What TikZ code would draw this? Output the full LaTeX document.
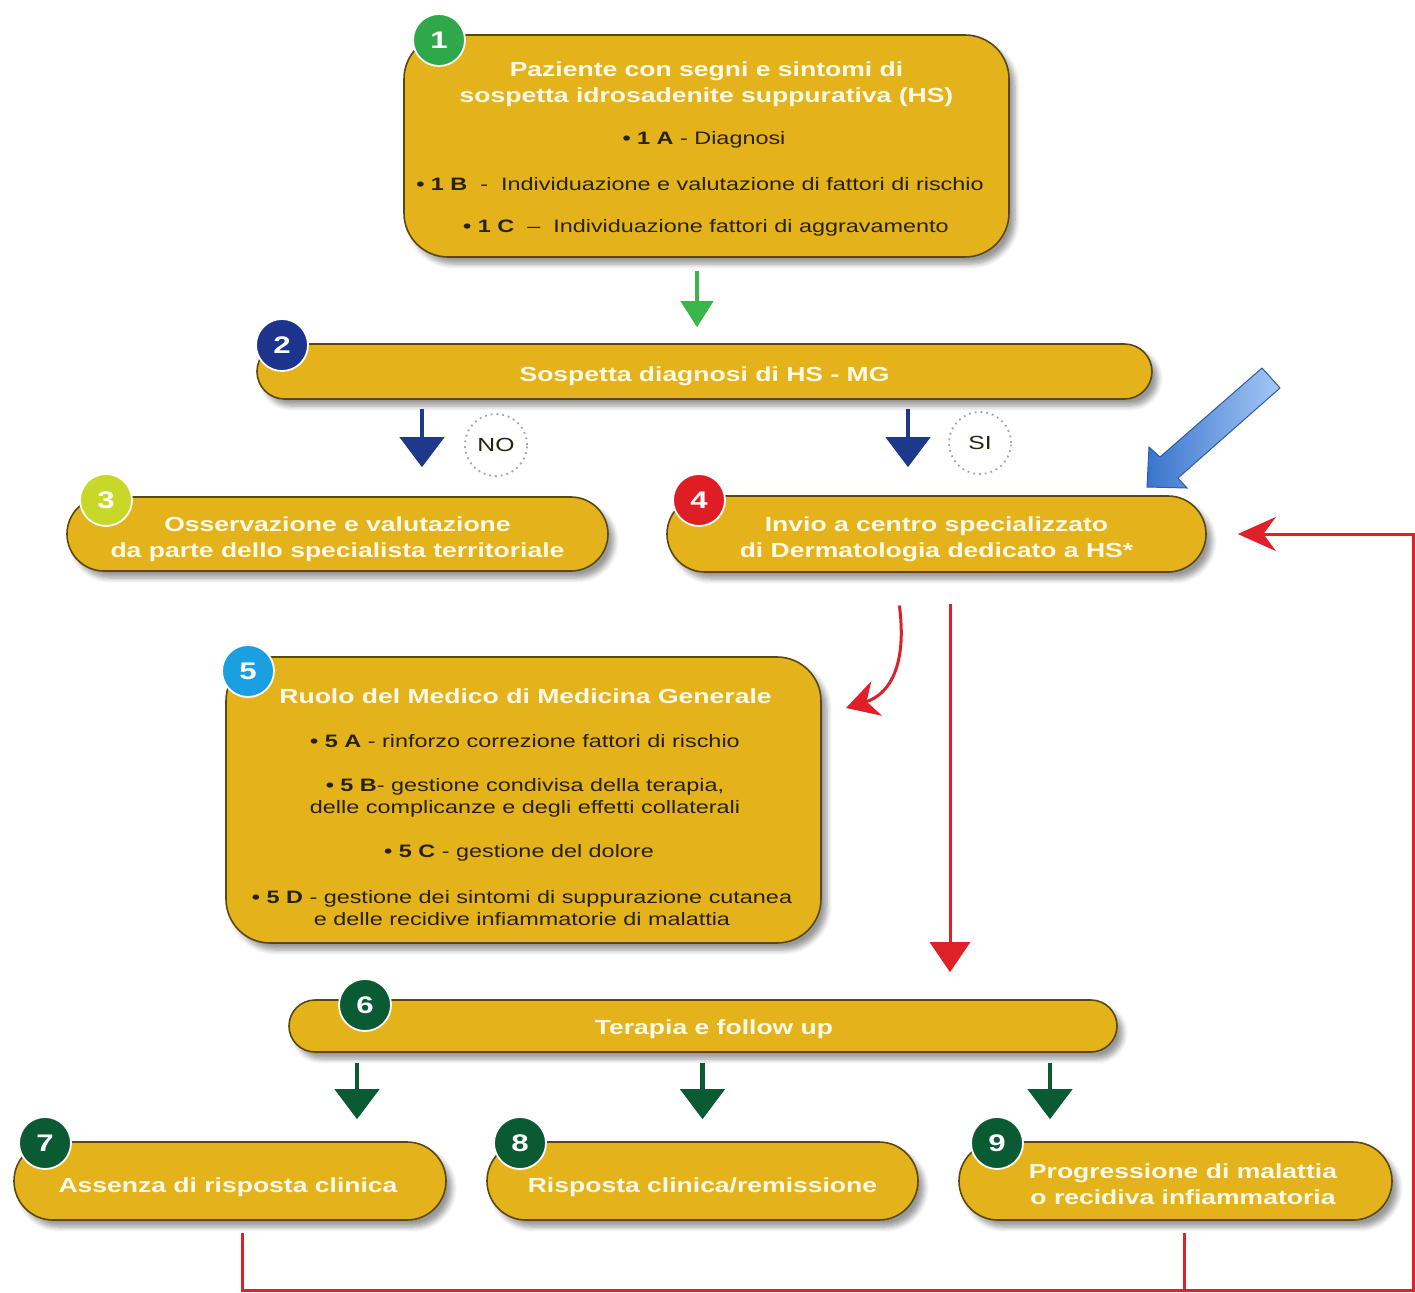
\documentclass[tikz,border=0pt]{standalone}
\usepackage{fontspec}
\setmainfont{Liberation Sans}[FakeStretch=1.3]
\usetikzlibrary{arrows.meta,shadows,shadows.blur}
\definecolor{hsGold}{RGB}{228,178,27}
\definecolor{hsEdge}{RGB}{90,72,18}
\definecolor{hsInk}{RGB}{40,34,16}
\definecolor{hsWhite}{RGB}{255,250,232}
\definecolor{hsGreen}{RGB}{46,168,74}
\definecolor{hsNavy}{RGB}{28,52,140}
\definecolor{hsLime}{RGB}{200,216,40}
\definecolor{hsRed}{RGB}{222,30,36}
\definecolor{hsCyan}{RGB}{26,160,224}
\definecolor{hsForest}{RGB}{10,90,52}
\definecolor{hsArrowBlue}{RGB}{30,56,140}
\definecolor{hsArrowGreen}{RGB}{58,181,74}
\definecolor{hsLoopRed}{RGB}{224,32,40}
\definecolor{hsSkyLight}{RGB}{165,200,246}
\definecolor{hsSkyDark}{RGB}{58,116,204}
\newcommand{\hsTag}[1]{\textbf{\textbullet\ #1}}
\tikzset{
  hsbox/.style={draw=hsEdge, line width=0.8pt, fill=hsGold, inner sep=0pt, blur shadow={shadow xshift=3pt, shadow yshift=-3.5pt, shadow blur radius=2.5pt, shadow blur steps=6, shadow opacity=40}},
  hstitle/.style={text=hsWhite, font=\bfseries\fontsize{10.2}{13}\selectfont, align=center},
  hsitem/.style={text=hsInk, font=\fontsize{9}{11}\selectfont, align=center, inner sep=0pt},
  hsbadge/.style={circle, draw=white, line width=0.9pt, minimum size=26pt, inner sep=0pt, text=white, font=\bfseries\fontsize{12}{12}\selectfont},
  hsanswer/.style={circle, draw=gray!70, dotted, line width=0.9pt, fill=white, minimum size=31pt, inner sep=0pt, text=hsInk, font=\fontsize{9.5}{10}\selectfont},
  bluedown/.style={draw=hsArrowBlue, line width=2.2pt, -{Triangle[width=22pt,length=15pt]}},
  greendown/.style={draw=hsArrowGreen, line width=2pt, -{Triangle[width=16pt,length=13pt]}},
  forestdown/.style={draw=hsForest, line width=2.2pt, -{Triangle[width=22pt,length=15pt]}},
  redline/.style={draw=hsLoopRed, line width=1.5pt},
}
\begin{document}
\begin{tikzpicture}[x=0.5pt,y=-0.5pt]
\useasboundingbox (0,0) rectangle (1415,1292);
\coordinate (xG) at (697,0);
\coordinate (xNo) at (422,0);
\coordinate (xSi) at (908,0);
\coordinate (xC) at (895,0);
\coordinate (xR) at (950,0);
\coordinate (xL) at (357,0);
\coordinate (xF) at (1050,0);
\coordinate (redTip) at (846,708);
\coordinate (loopL) at (242,1290);
\coordinate (loopM) at (1184,1290);
\coordinate (loopR) at (1413,1290);
\node[hsbox, rounded corners=22pt, minimum width=302.5pt, minimum height=111pt] (b1) at (706.5,146) {};
\node[hstitle] (b1title) at (706.5,84) {Paziente con segni e sintomi di\\sospetta idrosadenite suppurativa (HS)};
\node[hsitem] (b1a) at (704,140) {\hsTag{1 A} - Diagnosi};
\node[hsitem] (b1b) at (700,184) {\hsTag{1 B}\ \ -\ \ Individuazione e valutazione di fattori di rischio};
\node[hsitem] (b1c) at (706,228) {\hsTag{1 C}\ \ –\ \ Individuazione fattori di aggravamento};
\node[hsbox, rounded corners=13.75pt, minimum width=447.5pt, minimum height=27.5pt] (b2) at (704.5,371.5) {};
\node[hstitle] (b2text) at (704.5,376.5) {Sospetta diagnosi di HS - MG};
\node[hsbox, rounded corners=18.5pt, minimum width=270.5pt, minimum height=37pt] (b3) at (337.5,534) {};
\node[hstitle] (b3text) at (337.5,539) {Osservazione e valutazione\\da parte dello specialista territoriale};
\node[hsbox, rounded corners=19pt, minimum width=269.5pt, minimum height=38pt] (b4) at (936.5,534) {};
\node[hstitle] (b4text) at (936.5,539) {Invio a centro specializzato\\di Dermatologia dedicato a HS*};
\node[hsbox, rounded corners=22pt, minimum width=297.5pt, minimum height=143pt] (b5) at (523.5,800) {};
\node[hstitle] (b5title) at (525.5,696) {Ruolo del Medico di Medicina Generale};
\node[hsitem] (b5a) at (525,741) {\hsTag{5 A} - rinforzo correzione fattori di rischio};
\node[hsitem] (b5b) at (525,798) {\hsTag{5 B}- gestione condivisa della terapia,\\delle complicanze e degli effetti collaterali};
\node[hsitem] (b5c) at (519,853) {\hsTag{5 C} - gestione del dolore};
\node[hsitem] (b5d) at (522,908) {\hsTag{5 D} - gestione dei sintomi di suppurazione cutanea\\e delle recidive infiammatorie di malattia};
\node[hsbox, rounded corners=13pt, minimum width=414pt, minimum height=26pt] (b6) at (703,1026) {};
\node[hstitle] (b6text) at (714,1029) {Terapia e follow up};
\node[hsbox, rounded corners=19.5pt, minimum width=216pt, minimum height=39pt] (b7) at (230,1181) {};
\node[hstitle] (b7text) at (228,1187) {Assenza di risposta clinica};
\node[hsbox, rounded corners=19.5pt, minimum width=215.5pt, minimum height=39pt] (b8) at (702.5,1181) {};
\node[hstitle] (b8text) at (702.5,1187) {Risposta clinica/remissione};
\node[hsbox, rounded corners=19.5pt, minimum width=216.5pt, minimum height=39pt] (b9) at (1175.5,1181) {};
\node[hstitle] (b9text) at (1183,1184) {Progressione di malattia\\o recidiva infiammatoria};
\node[hsbadge, fill=hsGreen] (n1) at (439,40) {1};
\node[hsbadge, fill=hsNavy] (n2) at (282,345) {2};
\node[hsbadge, fill=hsLime] (n3) at (106,500) {3};
\node[hsbadge, fill=hsRed] (n4) at (699,500) {4};
\node[hsbadge, fill=hsCyan] (n5) at (248,671) {5};
\node[hsbadge, fill=hsForest] (n6) at (365,1005) {6};
\node[hsbadge, fill=hsForest] (n7) at (45,1143) {7};
\node[hsbadge, fill=hsForest] (n8) at (520,1143) {8};
\node[hsbadge, fill=hsForest] (n9) at (997,1143) {9};
\node[hsanswer] (no) at (496,445) {NO};
\node[hsanswer] (si) at (980,443) {SI};
\draw[greendown, shorten <=6.5pt, shorten >=8pt] (b1.south -| xG) -- (b2.north -| xG);
\draw[bluedown, shorten <=4.5pt, shorten >=14.5pt] (b2.south -| xNo) -- (b3.north -| xNo);
\draw[bluedown, shorten <=4.5pt, shorten >=14pt] (b2.south -| xSi) -- (b4.north -| xSi);
\draw[redline, -{Stealth[width=18pt,length=16pt]}, shorten <=16.5pt] (b4.south -| xC) .. controls +(12,90) and +(45,-14) .. (redTip);
\draw[redline, -{Triangle[width=20pt,length=15pt]}, shorten <=15.5pt, shorten >=13.5pt] (b4.south -| xR) -- (b6.north -| xR);
\draw[forestdown, shorten <=5pt, shorten >=11pt] (b6.south -| xL) -- (b7.north -| xL);
\draw[forestdown, shorten <=5pt, shorten >=11pt] (b6.south -| b8.north) -- (b8.north);
\draw[forestdown, shorten <=5pt, shorten >=11pt] (b6.south -| xF) -- (b9.north -| xF);
\draw[redline, -{Stealth[width=17pt,length=19pt]}] ([yshift=-6pt]b7.south -| loopL) -- (loopL) -- (loopR) |- ([xshift=15.5pt]b4.east);
\draw[redline] ([yshift=-6pt]b9.south -| loopM) -- (loopM);
\draw[draw=hsSkyDark!80!black, line width=0.5pt, left color=hsSkyDark, right color=hsSkyLight] (1147,487) -- (1187,488) -- (1178,478) -- (1280,388) -- (1262,368) -- (1160,457) -- (1149,447) -- cycle;
\end{tikzpicture}
\end{document}
